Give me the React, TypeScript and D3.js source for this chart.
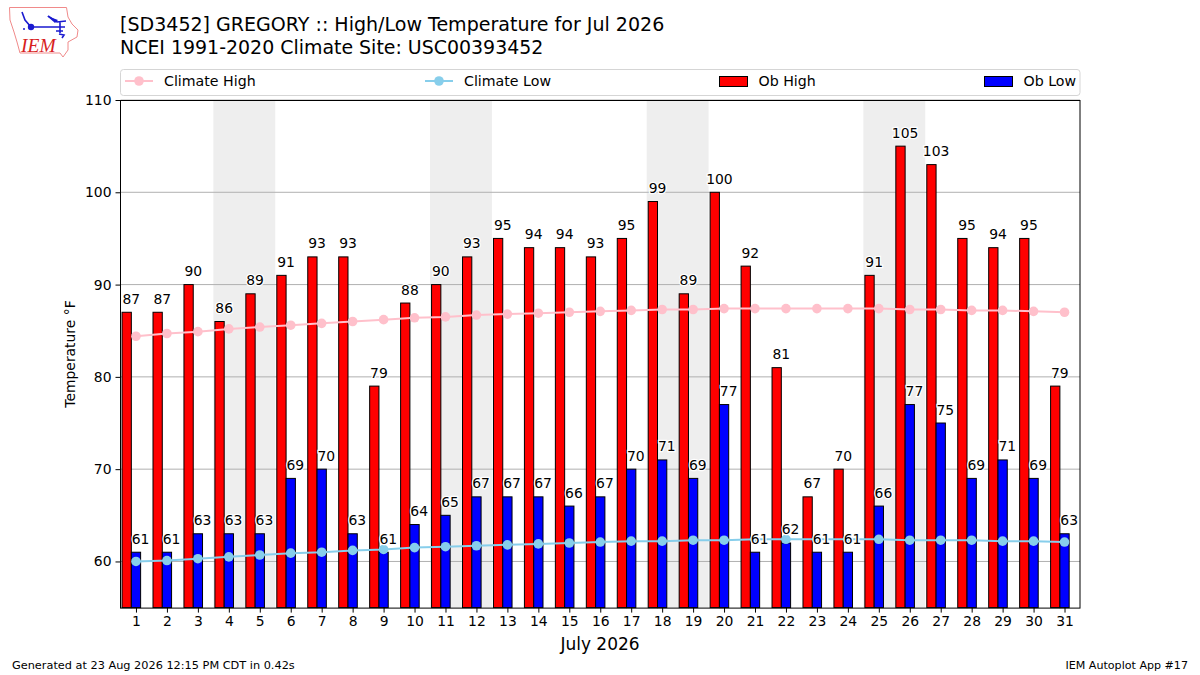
import * as d3 from "d3";
import { useEffect, useRef } from "react";

const days = d3.range(1, 32);
const obHigh = [87, 87, 90, 86, 89, 91, 93, 93, 79, 88, 90, 93, 95, 94, 94, 93, 95, 99, 89, 100, 92, 81, 67, 70, 91, 105, 103, 95, 94, 95, 79];
const obLow = [61, 61, 63, 63, 63, 69, 70, 63, 61, 64, 65, 67, 67, 67, 66, 67, 70, 71, 69, 77, 61, 62, 61, 61, 66, 77, 75, 69, 71, 69, 63];
const climateHigh = [84.4, 84.7, 84.9, 85.2, 85.4, 85.6, 85.8, 86, 86.2, 86.4, 86.5, 86.7, 86.8, 86.9, 87, 87.1, 87.2, 87.3, 87.3, 87.4, 87.4, 87.4, 87.4, 87.4, 87.4, 87.3, 87.3, 87.2, 87.2, 87.1, 87];
const climateLow = [60, 60.1, 60.3, 60.5, 60.7, 60.9, 61, 61.2, 61.3, 61.5, 61.6, 61.7, 61.8, 61.9, 62, 62.1, 62.2, 62.2, 62.3, 62.3, 62.4, 62.4, 62.4, 62.4, 62.4, 62.3, 62.3, 62.3, 62.2, 62.2, 62.1];
const weekends = [[4, 5], [11, 12], [18, 19], [25, 26]];
const yTicks = [60, 70, 80, 90, 100, 110];

const font = "'DejaVu Sans', sans-serif";

export default function App() {
  const ref = useRef<SVGSVGElement>(null);

  useEffect(() => {
    const svg = d3.select(ref.current);
    svg.selectAll("*").remove();

    const x = d3.scaleLinear().domain([0.5, 31.5]).range([120.5, 1080]);
    const y = d3.scaleLinear().domain([55, 110]).range([607.6, 100]);
    const bottom = y(55);
    const barW = x(1.3) - x(1);

    // weekend shading
    svg.append("g")
      .selectAll("rect")
      .data(weekends)
      .join("rect")
      .attr("x", (d) => x(d[0] - 0.5))
      .attr("y", y(110))
      .attr("width", (d) => x(d[1] + 0.5) - x(d[0] - 0.5))
      .attr("height", bottom - y(110))
      .attr("fill", "#eeeeee");

    // grid
    svg.append("g")
      .selectAll("line")
      .data(yTicks)
      .join("line")
      .attr("x1", x(0.5))
      .attr("x2", x(31.5))
      .attr("y1", (d) => y(d))
      .attr("y2", (d) => y(d))
      .attr("stroke", "#b0b0b0")
      .attr("stroke-width", 1);

    const bars = (vals: number[], left: number, fill: string) =>
      svg.append("g")
        .selectAll("rect")
        .data(vals)
        .join("rect")
        .attr("x", (_, i) => x(days[i] + left))
        .attr("y", (d) => y(d))
        .attr("width", barW)
        .attr("height", (d) => bottom - y(d))
        .attr("fill", fill)
        .attr("stroke", "#000")
        .attr("stroke-width", 1);

    bars(obHigh, -0.45, "#ff0000");
    bars(obLow, -0.15, "#0000ff");

    // climate lines
    const climate = (vals: number[], color: string) => {
      const line = d3.line<number>()
        .x((_, i) => x(days[i]))
        .y((d) => y(d));
      svg.append("path")
        .attr("d", line(vals))
        .attr("fill", "none")
        .attr("stroke", color)
        .attr("stroke-width", 2);
      svg.append("g")
        .selectAll("circle")
        .data(vals)
        .join("circle")
        .attr("cx", (_, i) => x(days[i]))
        .attr("cy", (d) => y(d))
        .attr("r", 4.8)
        .attr("fill", color);
    };
    climate(climateHigh, "#ffc0cb");
    climate(climateLow, "#87ceeb");

    // value labels
    const labels = (vals: number[], off: number) =>
      svg.append("g")
        .selectAll("text")
        .data(vals)
        .join("text")
        .attr("x", (_, i) => x(days[i] + off))
        .attr("y", (d) => y(d) - 8.5)
        .attr("text-anchor", "middle")
        .attr("font-family", font)
        .attr("font-size", 13.9)
        .attr("fill", "#000")
        .attr("stroke", "#fff")
        .attr("stroke-width", 2.5)
        .attr("paint-order", "stroke")
        .text((d) => d);
    labels(obHigh, -0.15);
    labels(obLow, 0.15);

    // axes frame
    svg.append("rect")
      .attr("x", x(0.5))
      .attr("y", y(110) + 0.5)
      .attr("width", x(31.5) - x(0.5))
      .attr("height", bottom - y(110))
      .attr("fill", "none")
      .attr("stroke", "#000")
      .attr("stroke-width", 1);

    const xAxis = svg.append("g")
      .attr("transform", `translate(0,${bottom})`)
      .call(d3.axisBottom(x).tickValues(days).tickFormat(d3.format("d")).tickSizeOuter(0).tickSize(5).tickPadding(4));
    const yAxis = svg.append("g")
      .attr("transform", `translate(${x(0.5)},0)`)
      .call(d3.axisLeft(y).tickValues(yTicks).tickFormat(d3.format("d")).tickSizeOuter(0).tickSize(5).tickPadding(4));
    [xAxis, yAxis].forEach((a) => {
      a.select(".domain").remove();
      a.selectAll("text").attr("font-family", font).attr("font-size", 13.9).attr("fill", "#000");
      a.selectAll("line").attr("stroke", "#000");
    });

    const text = (tx: number, ty: number, s: string, size: number, anchor = "start") =>
      svg.append("text")
        .attr("x", tx)
        .attr("y", ty)
        .attr("font-family", font)
        .attr("font-size", size)
        .attr("text-anchor", anchor)
        .attr("fill", "#000")
        .text(s);

    // titles and footer
    text(120, 31, "[SD3452] GREGORY :: High/Low Temperature for Jul 2026", 19.05);
    text(120, 54, "NCEI 1991-2020 Climate Site: USC00393452", 18.95);
    text(600, 650, "July 2026", 17, "middle");
    text(75, 0, "Temperature °F", 13.9, "middle").attr("transform", "translate(0,354) rotate(-90 75 0)");
    text(12, 669, "Generated at 23 Aug 2026 12:15 PM CDT in 0.42s", 11.3);
    text(1188, 669, "IEM Autoplot App #17", 11.1, "end");

    // legend
    svg.append("rect")
      .attr("x", 120.5)
      .attr("y", 69.5)
      .attr("width", 959.5)
      .attr("height", 26)
      .attr("rx", 3)
      .attr("fill", "#fff")
      .attr("stroke", "#d5d5d5");
    const legendLine = (lx: number, color: string, s: string) => {
      svg.append("line")
        .attr("x1", lx)
        .attr("x2", lx + 28)
        .attr("y1", 81)
        .attr("y2", 81)
        .attr("stroke", color)
        .attr("stroke-width", 2);
      svg.append("circle").attr("cx", lx + 14).attr("cy", 81).attr("r", 4.8).attr("fill", color);
      text(lx + 39, 86, s, 14.2);
    };
    const legendBar = (lx: number, color: string, s: string) => {
      svg.append("rect")
        .attr("x", lx)
        .attr("y", 76.5)
        .attr("width", 28)
        .attr("height", 10)
        .attr("fill", color)
        .attr("stroke", "#000");
      text(lx + 39, 86, s, 14.2);
    };
    legendLine(125, "#ffc0cb", "Climate High");
    legendLine(425, "#87ceeb", "Climate Low");
    legendBar(719.5, "#ff0000", "Ob High");
    legendBar(984.5, "#0000ff", "Ob Low");

    // IEM logo
    const logo = svg.append("g");
    logo.append("path")
      .attr("d", "M9.5,7.5 L66.5,7.5 L68,17 L72,24 L78,30 L77,37 L68,42 L68,50 L63,57 L60,53 L20,53 L17,42 L14,32 L10,20 Z")
      .attr("fill", "#fff")
      .attr("stroke", "#f08a8a")
      .attr("stroke-width", 1);
    logo.append("path")
      .attr("d", "M31,27 L65,27 M48,16 L57,22 L66,21 M60,22 L60,33 M22,12 L25,20 L31,27 M56,31 L63,31 M59,34 L64,35 L62,38")
      .attr("fill", "none")
      .attr("stroke", "#1a1ad0")
      .attr("stroke-width", 1.6);
    logo.append("path").attr("d", "M47,16 L58,20 L55,23 Z").attr("fill", "#1a1ad0");
    logo.append("circle").attr("cx", 31).attr("cy", 27).attr("r", 3.2).attr("fill", "#1a1ad0");
    logo.append("circle").attr("cx", 24).attr("cy", 29).attr("r", 1).attr("fill", "#1a1ad0");
    logo.append("text")
      .attr("x", 21)
      .attr("y", 51.5)
      .attr("font-family", "'Liberation Serif', serif")
      .attr("font-style", "italic")
      .attr("font-size", 19.5)
      .attr("fill", "#d81e1e")
      .text("IEM");
  }, []);

  return <svg ref={ref} width={1200} height={675} style={{ position: "absolute", left: 0, top: 0, background: "#fff" }} />;
}
